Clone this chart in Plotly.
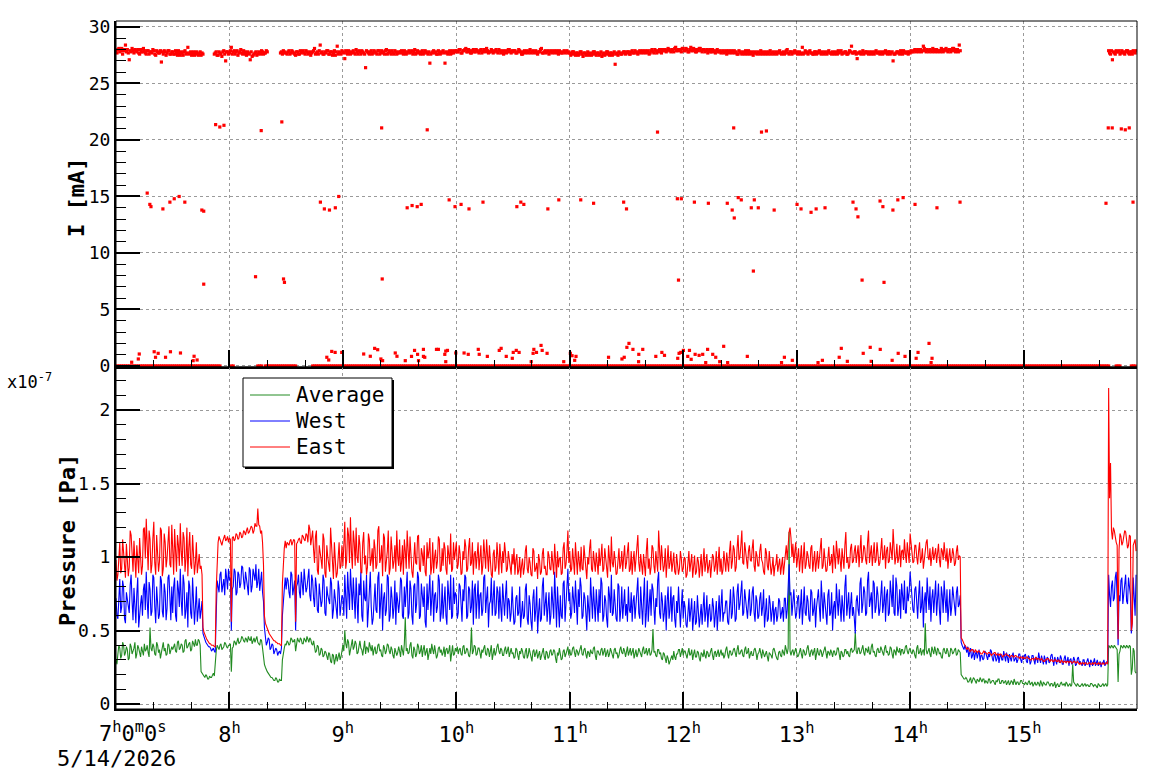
import plotly.graph_objects as go

N = None
START_HOUR = 7.0
END_HOUR = 16.0
FONT = "DejaVu Sans Mono"

# ---------------- pressure gauges, units of 1e-9 Pa
# readings on the full minute (from 7:00) ...
avg_p = [
    30,34,38,33,40,35,37,31,39,36,42,34,38,32,36,41,37,35,52,36,39,33,40,37,35,42,38,34,40,36,
    37,41,35,43,38,40,36,44,39,42,37,41,44,40,43,22,20,18,19,17,18,20,19,36,38,40,37,39,41,38,
    40,22,39,42,44,41,43,45,42,44,46,43,41,45,44,42,40,43,30,25,22,20,18,17,16,17,15,16,30,38,
    40,42,41,44,43,36,45,42,44,41,43,46,42,44,40,38,36,39,34,37,33,35,30,34,28,33,31,29,35,32,
    40,50,38,42,36,44,39,41,35,43,37,40,34,38,42,36,33,39,35,41,37,32,38,36,40,34,37,31,36,35,
    36,40,33,59,38,35,42,31,37,34,39,36,32,40,35,30,38,41,34,36,33,39,37,35,32,38,36,29,40,34,
    36,34,38,33,40,35,37,32,52,36,39,34,38,31,35,40,33,37,36,30,38,35,41,34,37,33,39,36,32,38,
    35,32,37,30,34,36,31,38,33,35,29,37,34,31,36,33,38,30,35,32,37,34,36,28,33,35,31,37,34,39,
    37,34,39,32,36,35,40,33,38,31,35,37,34,39,30,36,33,38,35,32,37,34,36,31,38,35,33,39,34,36,
    36,33,38,35,31,37,34,36,32,39,35,33,38,34,51,36,32,37,35,30,34,28,31,29,33,36,30,34,37,35,
    33,36,31,38,34,30,37,32,35,29,34,37,31,35,33,38,30,36,34,32,37,35,33,39,31,36,34,38,32,40,
    34,37,32,39,35,31,36,33,38,30,35,34,37,32,36,29,34,31,38,33,30,36,32,35,40,34,117,33,37,35,
    35,33,38,31,36,34,40,32,37,35,30,38,33,36,34,39,31,35,37,32,36,34,38,30,35,33,37,36,32,38,
    36,49,34,38,35,40,33,37,39,34,41,36,32,38,35,37,33,40,36,34,38,31,36,39,35,33,37,35,40,34,
    38,34,36,31,40,35,33,37,55,34,38,32,36,39,33,37,35,31,38,34,36,33,37,35,38,34,36,20,18,17,
    17,15,18,16,17,14,16,18,15,17,16,14,17,15,16,13,15,17,14,16,15,13,16,14,15,17,13,15,14,16,
    14,15,13,16,14,12,15,13,14,16,12,14,13,15,12,14,13,11,14,12,15,13,12,14,13,12,27,14,12,13,
    12,14,13,12,13,12,14,12,13,11,13,12,14,13,12,40,38,39,40,38,15,36,39,40,38,39,40,20,38,22,
]
west_p = [
    72,58,85,66,80,55,70,62,88,57,64,75,52,68,60,82,90,58,78,63,86,55,72,61,84,59,76,65,88,57,
    62,86,56,78,92,60,82,64,52,80,58,70,66,56,72,64,48,44,41,39,38,37,36,60,80,88,76,85,92,78,
    84,50,80,90,76,88,82,93,78,86,74,91,80,88,95,83,77,90,70,46,42,44,38,40,36,37,35,34,60,78,
    78,84,72,88,80,50,82,76,90,74,86,79,92,70,84,66,80,62,76,70,84,60,74,68,82,64,72,58,78,66,
    72,88,58,80,92,64,76,86,55,74,60,84,70,52,78,66,58,82,62,90,68,50,76,64,86,60,72,66,54,70,
    70,84,58,66,90,62,78,54,82,68,86,60,74,80,52,64,88,70,56,76,66,84,62,58,80,54,72,88,60,68,
    74,62,80,56,70,86,60,78,66,54,82,68,58,76,64,88,72,52,70,60,84,62,76,80,56,66,74,58,70,62,
    66,56,74,62,52,70,60,82,54,68,50,78,64,48,72,58,86,66,56,76,60,70,90,52,64,74,58,84,68,92,
    76,62,70,84,54,66,80,60,72,50,64,86,58,68,78,56,62,82,60,70,52,74,88,62,68,56,80,64,58,78,
    68,80,62,56,74,66,86,58,64,72,52,84,68,60,78,54,66,90,58,70,62,50,80,64,56,74,52,62,58,66,
    58,66,52,72,62,50,70,56,64,60,54,76,62,52,68,58,66,60,50,74,64,56,62,70,54,78,62,72,58,82,
    68,84,62,72,58,78,64,80,56,70,60,76,66,52,72,58,68,62,54,66,60,70,62,56,72,64,95,76,70,66,
    62,74,66,54,80,60,70,56,76,64,52,72,66,84,58,68,54,78,62,50,70,82,60,66,74,56,88,68,58,76,
    66,48,74,60,86,68,76,62,90,70,58,82,66,74,64,84,68,56,78,62,72,88,60,80,66,58,74,84,62,70,
    90,74,62,80,58,84,66,52,76,86,64,56,78,70,60,82,54,74,84,62,56,78,66,72,60,80,68,42,38,40,
    35,32,38,33,30,36,34,29,33,31,35,30,32,36,29,33,31,28,34,30,32,35,28,31,33,29,32,30,34,28,
    30,34,28,32,29,33,27,31,35,28,30,33,27,31,29,34,26,30,32,28,31,27,33,29,26,31,28,30,27,32,
    29,26,30,27,31,25,29,28,26,30,27,25,28,26,29,88,66,84,72,90,40,70,86,74,88,68,80,48,86,60,
]
east_p = [
    98,88,110,92,104,86,100,93,115,90,97,108,89,103,94,120,126,91,112,95,124,88,106,97,118,92,110,99,121,93,
    96,119,90,108,123,94,113,99,87,117,92,105,96,89,102,94,52,47,44,42,41,40,39,78,110,112,108,113,111,114,
    113,56,114,112,115,113,116,114,117,118,116,119,120,118,121,133,121,118,95,55,51,48,46,44,43,42,41,40,82,106,
    106,109,111,108,112,56,110,113,109,114,111,115,122,108,118,96,118,88,104,92,112,86,100,90,107,85,98,89,110,94,
    94,124,98,115,127,92,110,120,96,108,89,117,101,93,112,98,90,106,95,121,99,87,113,96,118,92,104,97,90,100,
    112,96,88,104,118,92,100,86,110,95,115,90,102,108,87,99,113,93,89,105,97,112,91,94,106,88,101,116,92,98,
    110,95,102,89,98,107,92,113,96,88,104,99,91,108,94,101,112,90,97,86,105,93,100,109,89,96,103,92,99,88,
    95,88,102,91,86,99,93,108,89,96,87,104,92,85,98,90,106,94,88,101,91,97,109,86,93,100,89,110,95,118,
    104,92,98,110,88,96,107,91,100,85,95,112,90,97,103,88,94,109,92,99,86,101,114,93,98,89,106,95,90,108,
    96,110,92,88,104,98,115,90,95,102,87,113,99,93,106,89,97,118,91,100,94,86,108,96,90,103,88,95,92,99,
    92,99,88,104,95,86,101,90,97,93,87,106,96,89,98,92,100,94,88,107,99,91,96,103,90,111,97,105,93,115,
    100,118,95,104,92,108,97,112,90,101,94,109,96,88,103,91,98,93,87,95,90,99,93,88,104,98,117,113,109,102,
    93,106,98,89,110,95,101,92,108,97,90,104,99,113,94,100,91,107,96,89,102,111,95,98,106,92,117,100,94,109,
    97,108,102,93,115,99,106,95,118,101,94,110,98,104,96,113,100,92,107,97,103,119,95,109,99,93,105,112,96,101,
    116,103,97,108,95,110,99,92,105,112,98,94,107,101,96,109,93,104,110,97,92,106,99,102,96,108,101,45,42,40,
    37,38,36,37,35,36,36,35,34,36,35,34,35,33,34,35,34,33,34,32,33,34,33,32,33,32,33,32,31,32,
    32,31,32,31,30,31,31,30,31,30,30,29,30,31,29,30,29,30,29,29,30,28,29,29,28,29,28,29,28,28,
    28,28,27,28,27,28,27,27,28,27,27,27,28,27,28,215,164,112,118,110,44,116,108,113,117,106,115,50,108,112,
]
# ... and readings on the half minute (7:00:30 onwards)
avg_half = [
    27,40,31,42,33,39,30,41,34,38,31,40,35,39,33,36,40,32,38,41,34,42,35,31,39,36,33,41,34,39,
    40,36,42,37,41,35,43,38,41,36,43,39,40,44,40,21,19,20,17,19,18,21,30,40,37,41,38,42,39,40,
    41,38,43,40,45,42,46,43,45,42,44,46,43,42,46,41,44,38,27,23,21,19,18,16,18,15,17,16,36,41,
    43,40,45,42,44,42,43,45,41,45,42,44,45,41,43,35,40,33,38,32,36,31,35,29,34,27,34,33,30,36,
    36,41,44,33,40,37,43,34,39,38,33,43,39,35,38,40,37,34,40,36,33,40,34,41,36,39,33,38,33,39,
    32,37,41,36,34,40,33,39,32,41,34,40,37,33,38,36,34,37,40,31,38,35,33,39,37,34,40,35,33,38,
    39,37,34,39,34,38,33,37,34,40,33,38,35,37,38,34,38,32,40,35,33,39,36,38,33,37,34,39,37,34,
    31,38,33,36,38,32,36,31,38,32,36,32,37,35,30,37,32,36,31,36,33,37,31,35,38,30,36,32,38,33,
    33,38,35,37,33,38,34,37,34,36,32,35,38,33,36,34,37,33,38,36,32,38,33,37,34,31,37,35,38,32,
    39,35,33,38,35,32,38,33,37,34,38,36,33,37,35,33,37,34,31,35,31,33,27,32,30,32,34,37,32,38,
    36,32,35,33,37,34,32,36,31,35,32,33,36,32,36,33,35,32,37,35,33,31,37,34,36,33,37,35,37,34,
    36,33,37,34,38,34,33,37,35,34,38,31,35,34,32,35,33,37,34,31,35,33,37,33,36,38,36,36,33,38,
    32,37,34,37,33,38,35,36,33,38,35,34,37,32,37,35,36,33,35,36,33,38,34,36,32,37,34,33,37,35,
    37,36,38,34,39,35,38,35,34,39,35,33,37,35,39,34,38,35,33,39,34,37,33,36,38,37,34,39,36,37,
    35,37,33,38,34,38,36,33,37,36,34,39,34,36,38,34,32,37,35,38,32,38,34,37,33,37,35,19,17,18,
    15,17,14,18,15,17,15,16,17,14,15,17,14,16,14,16,17,14,16,14,16,15,13,16,13,15,15,13,16,14,
    13,14,15,13,15,14,13,15,12,14,15,13,15,13,14,12,15,13,12,14,13,14,15,12,14,13,15,13,14,12,
    13,12,14,13,12,14,13,13,12,14,12,13,12,14,13,39,40,38,39,37,34,40,38,39,40,38,39,24,36,21,
]
west_half = [
    60,80,62,84,58,76,64,81,70,79,55,86,62,74,78,64,70,83,60,88,66,80,58,87,63,82,57,86,66,80,
    80,60,84,66,70,88,58,76,84,62,86,54,80,62,58,70,45,42,40,39,36,38,35,84,76,90,82,74,86,92,
    86,78,92,74,90,79,94,84,90,80,93,76,92,84,79,92,86,76,52,40,45,37,41,34,38,33,36,38,72,86,
    86,76,90,74,84,80,88,72,82,92,76,88,74,88,72,86,64,82,66,88,62,80,70,86,58,78,64,84,60,74,
    60,76,90,64,74,86,58,68,82,90,56,72,88,64,90,54,76,64,86,58,82,72,60,88,56,80,58,84,76,62,
    86,60,80,84,58,84,60,80,62,90,58,82,66,56,82,78,60,84,74,62,88,56,82,74,60,84,64,58,86,76,
    58,82,64,78,88,58,80,62,84,78,58,84,74,60,86,62,80,68,86,72,60,80,58,66,82,60,84,72,56,80,
    54,72,60,80,66,58,78,58,74,56,72,56,80,62,56,80,60,76,72,54,80,58,62,80,52,60,82,56,86,70,
    58,80,62,60,78,86,58,76,62,74,56,64,80,56,62,78,86,56,74,58,80,62,60,78,58,82,56,80,72,60,
    56,64,76,70,58,78,62,80,54,86,62,56,78,82,60,72,84,62,76,56,74,70,58,80,72,58,70,80,52,78,
    70,54,68,56,72,62,54,74,52,68,64,56,74,64,56,72,52,70,62,56,78,62,70,56,68,58,80,56,76,64,
    76,60,78,64,70,60,76,62,74,58,72,60,78,62,56,74,56,70,64,56,72,58,66,72,58,80,74,60,78,58,
    72,58,78,70,62,74,58,78,60,72,66,78,56,70,76,58,74,60,76,66,58,70,78,56,62,80,60,76,70,60,
    58,70,64,82,62,80,60,84,66,76,84,62,80,60,78,62,80,74,60,84,66,62,86,60,78,82,64,62,80,76,
    80,64,78,66,74,62,80,70,62,74,80,72,62,84,72,64,80,62,72,78,66,60,80,62,76,66,74,40,37,38,
    39,35,31,37,34,31,37,33,30,36,32,34,37,31,34,29,35,32,30,36,29,31,34,29,35,31,28,34,30,33,
    33,29,33,27,33,30,32,28,31,33,27,29,32,28,33,30,32,27,29,33,27,31,28,32,30,27,32,26,31,28,
    27,30,26,29,28,30,26,31,28,26,29,28,30,27,28,74,80,70,86,72,74,84,68,80,70,86,74,56,72,88,
]
east_half = [
    84,106,89,112,90,109,87,118,95,111,86,94,113,88,119,99,104,118,89,113,96,115,90,120,87,116,93,117,95,122,
    88,100,115,94,104,117,90,120,106,95,115,88,110,99,92,88,49,45,43,41,40,40,39,104,114,109,111,115,112,110,
    112,113,111,116,112,117,113,118,115,120,117,121,116,123,121,122,116,110,60,53,49,47,45,43,42,41,41,40,100,111,
    110,108,112,110,111,109,112,110,115,112,116,110,119,113,105,114,91,108,98,116,89,108,94,120,92,110,86,104,92,108,
    108,92,120,96,104,118,94,100,115,90,110,95,88,116,94,106,112,92,118,96,108,116,90,104,88,114,92,108,118,94,
    90,108,112,92,98,114,90,104,96,114,92,106,94,90,110,104,88,110,100,92,114,90,106,110,92,108,95,90,110,104,
    92,108,88,104,112,90,106,94,110,102,92,110,104,88,112,92,96,108,88,102,90,110,88,96,104,110,90,104,90,102,
    106,98,88,100,94,88,104,92,100,88,106,90,96,102,88,102,92,88,104,92,104,88,95,104,99,88,106,92,104,96,
    90,106,88,94,104,90,92,108,88,100,106,92,104,90,94,106,100,90,106,92,108,90,96,104,88,102,92,104,100,92,
    104,90,104,98,90,108,96,102,88,94,104,92,88,108,94,104,90,100,108,90,106,98,92,104,96,90,102,88,104,90,
    100,86,98,90,102,96,88,100,86,102,96,90,102,94,86,102,90,104,96,90,88,104,90,94,104,92,108,90,106,98,
    108,96,110,94,104,98,106,94,104,94,104,98,90,106,94,104,88,100,94,102,96,88,100,96,108,110,120,100,96,110,
    100,90,108,100,92,104,94,106,90,104,100,92,108,92,106,90,104,94,102,108,92,98,106,90,96,108,96,92,106,96,
    104,96,108,106,96,108,98,110,96,108,104,96,110,94,106,98,108,104,96,110,98,106,100,96,108,104,98,102,110,96,
    106,96,108,100,104,96,106,98,110,100,106,100,98,106,104,98,106,98,102,106,100,96,106,94,104,98,100,44,41,39,
    38,36,37,36,37,35,36,34,35,35,34,35,34,34,35,33,34,34,33,33,34,33,32,33,32,33,32,32,32,31,
    31,32,31,30,31,30,32,31,30,31,29,30,31,30,30,29,30,29,30,28,29,29,28,29,29,28,29,28,29,27,
    27,28,28,27,28,27,28,28,27,28,28,27,27,28,27,140,118,120,112,108,105,114,110,118,112,108,114,55,110,104,
]

# ---------------- beam current (mA); None = no reading
# readings on the full minute ...
i_beam = [
    27.9,28.0,27.8,28.1,27.9,28.4,28.0,27.1,27.8,27.9,28.0,27.8,27.7,28.0,27.8,27.9,27.6,27.9,27.8,27.7,27.9,27.5,27.8,27.7,26.9,27.6,27.8,27.7,27.9,27.6,
    27.8,27.6,27.7,27.9,27.5,27.7,27.8,27.6,28.2,27.7,27.5,27.8,27.6,27.7,27.6,27.5,27.6,N,N,N,N,N,27.6,27.8,27.5,27.7,27.4,27.9,27.0,27.8,
    27.7,28.2,27.8,27.6,27.9,27.7,28.0,27.6,27.8,27.5,27.7,27.1,27.4,27.6,27.8,27.6,27.7,27.9,27.6,27.7,27.8,N,N,N,N,N,N,27.7,27.6,27.8,
    27.7,27.8,27.6,27.9,27.7,27.5,27.8,27.6,27.7,27.9,27.6,27.8,27.7,27.5,27.8,28.1,27.7,27.6,28.4,27.8,27.6,27.7,27.9,27.6,27.8,27.7,27.5,28.3,27.8,27.6,
    27.8,27.2,27.7,27.9,27.6,27.8,27.7,28.0,27.6,27.8,27.9,27.7,26.4,27.8,27.6,27.9,27.7,27.8,27.6,27.9,27.7,27.8,27.6,28.0,27.7,27.8,27.9,27.6,27.8,27.7,
    27.7,27.9,27.6,27.8,27.7,27.9,27.8,27.6,28.0,27.7,27.8,27.6,27.9,27.7,27.8,27.6,26.8,27.7,27.9,27.8,27.6,27.8,27.7,27.9,26.8,27.7,27.8,27.6,27.9,27.8,
    27.9,27.8,28.0,27.7,27.9,28.1,27.8,27.9,27.7,28.0,27.8,27.9,27.7,28.0,27.8,27.9,28.1,27.7,27.8,27.9,27.8,28.0,27.7,27.9,27.8,27.6,27.9,27.8,28.0,27.7,
    27.8,27.9,27.7,28.0,27.8,27.6,27.9,27.8,27.7,28.0,27.8,27.7,27.9,27.6,27.8,28.1,27.7,27.9,27.8,27.6,27.9,27.8,27.7,27.9,27.6,27.8,27.7,27.9,27.8,27.7,
    27.7,27.6,27.8,27.5,27.7,27.6,27.8,27.4,27.7,27.6,27.5,27.7,27.6,27.8,27.5,27.7,27.6,27.4,27.7,27.6,27.8,27.5,27.7,27.6,26.7,27.7,27.8,27.6,27.7,27.8,
    27.7,27.8,27.6,27.9,27.7,27.8,27.6,27.9,27.8,27.7,27.9,27.8,27.6,27.9,27.8,28.0,27.7,27.9,27.8,28.0,27.9,27.8,28.1,27.9,28.0,27.8,28.2,27.9,28.0,27.8,
    28.1,27.9,28.0,27.8,28.2,27.9,28.0,27.8,27.9,28.1,27.8,28.0,27.9,27.7,28.0,27.8,27.9,27.7,28.0,27.8,27.7,27.9,27.8,27.6,27.9,27.8,27.7,27.9,27.8,27.6,
    27.8,27.6,27.7,27.9,27.6,27.8,27.7,27.5,27.8,27.6,27.7,27.9,27.6,27.7,27.8,27.6,27.9,27.7,27.6,27.8,27.7,27.9,27.6,27.8,27.7,28.0,27.6,27.8,27.7,27.9,
    27.8,27.7,27.6,28.2,27.7,27.8,27.6,27.9,27.7,27.6,27.8,27.7,27.9,27.6,27.7,27.8,27.6,27.9,27.7,27.8,27.6,27.7,27.9,27.8,27.6,27.7,27.8,27.6,27.9,28.3,
    27.7,27.8,27.2,27.7,27.6,27.9,27.7,27.8,27.6,27.7,27.8,27.6,27.9,27.7,27.6,27.8,27.7,27.9,27.6,27.8,27.7,27.0,27.6,27.8,27.7,27.9,27.6,27.8,27.7,27.6,
    27.7,27.8,27.9,27.8,28.0,27.9,27.8,28.3,27.9,28.0,27.8,27.9,28.1,27.8,28.0,27.9,27.8,28.0,27.9,28.1,27.8,28.0,27.9,28.1,27.8,28.0,28.4,N,N,N,
    N,N,N,N,N,N,N,N,N,N,N,N,N,N,N,N,N,N,N,N,N,N,N,N,N,N,N,N,N,N,
    N,N,N,N,N,N,N,N,N,N,N,N,N,N,N,N,N,N,N,N,N,N,N,N,N,N,N,N,N,N,
    N,N,N,N,N,N,N,N,N,N,N,N,N,N,N,27.9,27.6,27.1,27.7,27.9,27.8,27.6,27.9,27.7,27.8,27.9,27.6,27.8,27.9,27.7,
]
# ... and on the half minute
i_beam_half = [
    27.7,28.1,27.9,27.6,28.0,27.8,27.7,27.9,28.1,27.7,27.9,28.0,27.6,27.8,28.1,27.7,27.9,27.6,27.8,28.0,27.6,27.9,27.7,27.9,27.8,27.9,27.5,27.9,27.6,27.8,
    27.6,27.9,27.5,27.7,27.8,27.5,27.9,27.7,27.6,27.8,27.7,27.5,27.8,27.5,27.8,27.7,N,N,N,N,N,N,27.7,27.5,27.8,27.6,27.8,27.6,27.8,27.6,
    27.9,27.6,27.9,27.8,27.5,27.8,27.7,27.9,27.6,27.8,27.6,27.8,27.5,27.7,27.5,27.8,27.6,27.8,27.7,27.9,N,N,N,N,N,N,N,27.8,27.9,27.7,
    27.6,27.9,27.7,27.8,27.6,27.8,27.6,27.9,27.8,27.7,27.9,27.6,27.8,27.7,27.9,27.6,27.8,27.9,27.7,27.6,27.8,27.9,27.6,27.8,27.5,27.9,27.8,27.6,27.7,27.9,
    27.7,27.9,27.6,27.8,27.7,27.9,27.6,27.8,27.9,27.6,27.8,27.6,27.9,27.7,27.8,27.6,27.9,27.7,27.9,27.6,27.9,27.7,27.9,27.6,27.9,27.6,27.7,27.9,27.6,27.8,
    27.8,27.7,27.9,27.6,27.8,27.7,27.9,27.8,27.6,27.9,27.7,27.8,27.6,27.9,27.7,27.8,27.6,27.8,27.7,27.6,27.9,27.6,27.8,27.7,27.8,27.6,27.9,27.7,27.7,27.9,
    27.8,28.0,27.7,27.9,28.0,27.8,28.0,27.7,27.9,27.8,28.0,27.8,27.9,27.7,28.0,27.8,27.9,27.8,28.0,27.7,27.9,27.8,28.0,27.7,27.9,27.8,27.7,28.0,27.8,27.9,
    27.9,27.7,27.8,27.9,27.6,27.8,27.7,27.9,27.8,27.7,27.9,27.8,27.7,27.8,28.0,27.7,27.8,27.7,27.9,27.8,27.7,27.9,27.8,27.7,27.9,27.7,27.8,27.7,27.9,27.8,
    27.5,27.8,27.6,27.7,27.5,27.8,27.6,27.7,27.5,27.8,27.6,27.5,27.8,27.6,27.7,27.5,27.8,27.6,27.5,27.8,27.6,27.7,27.5,27.8,27.6,27.5,27.7,27.6,27.8,27.6,
    27.8,27.6,27.8,27.7,27.9,27.7,27.8,27.7,27.9,27.8,27.7,27.9,27.7,28.0,27.7,27.9,27.8,28.0,27.7,27.9,28.0,27.9,28.0,27.8,27.9,28.1,27.9,28.0,27.9,28.1,
    27.9,28.1,27.8,28.0,27.9,28.1,27.8,28.0,28.1,27.9,28.0,27.8,28.0,27.9,27.8,28.0,27.8,27.9,27.8,27.9,27.8,27.7,27.9,27.8,27.7,27.9,27.8,27.7,27.6,27.9,
    27.7,27.8,27.6,27.7,27.9,27.6,27.8,27.7,27.7,27.8,27.6,27.7,27.8,27.6,27.7,27.8,27.6,27.8,27.7,27.6,27.8,27.7,27.7,27.6,27.9,27.7,27.8,27.6,27.8,27.7,
    27.6,27.8,27.7,27.6,27.9,27.7,27.8,27.7,27.6,27.8,27.6,27.8,27.7,27.8,27.6,27.7,27.8,27.7,27.6,27.7,27.8,27.6,27.7,27.9,27.7,27.8,27.6,27.7,27.8,27.7,
    27.8,27.6,27.7,27.8,27.7,27.6,27.8,27.7,27.8,27.6,27.7,27.8,27.7,27.8,27.7,27.6,27.8,27.7,27.8,27.6,27.8,27.6,27.7,27.8,27.6,27.7,27.9,27.7,27.8,27.8,
    27.9,27.8,28.0,27.9,27.8,28.0,27.9,28.1,27.8,27.9,28.0,27.8,27.9,28.0,27.8,27.9,28.1,27.8,28.0,27.9,28.0,27.8,28.1,27.9,28.0,27.8,27.9,N,N,N,
    N,N,N,N,N,N,N,N,N,N,N,N,N,N,N,N,N,N,N,N,N,N,N,N,N,N,N,N,N,N,
    N,N,N,N,N,N,N,N,N,N,N,N,N,N,N,N,N,N,N,N,N,N,N,N,N,N,N,N,N,N,
    N,N,N,N,N,N,N,N,N,N,N,N,N,N,N,27.7,27.9,27.8,27.6,27.8,27.9,27.7,27.8,27.6,27.9,27.7,27.8,27.6,27.8,27.9,
]

# zero-reading channel, one reading per minute (mA); None = no reading
i_zero = (
    [0] * 56 + [N] * 5 + [0, 0] + [N] * 12 + [0, 0, 0] + [N] + [0] * 17 + [N] * 8
    + [0] * 422 + [N] * 3 + [0, 0, 0] + [N] * 5 + [0, 0, 0]
)

# sporadic intermediate current readings: minutes after 7:00, value (mA)
mid_t = [16.5,17.9,18.5,24.8,28.5,30.8,33.4,36.4,45.4,46.4,108.1,110.2,112.9,116,117.8,154,156.6,159.3,161.4,
         176.2,179.3,182.5,186.7,194.1,212,214.1,215.7,228.4,234.2,245.8,252.6,268.5,270,296.9,299,305.9,313.3,
         323.3,325.9,327,329.1,330.7,336,337.6,339.7,348.1,360.2,362.3,367.6,370.3,375,389.8,391.4,392.4,404.1,
         405.6,410.9,413.5,416.3,422.6,434.2,446.4,523.6,537.9,
         52.7,54.9,57.1,76.8,87.7,140.5,164.6,286.4,326.7,341.4,344,524.8,526.9,531.7,533.8,535.9,
         46.4,73.8,88.6,89.1,140.8,297.5,337.1,394.6,406.2]
mid_v = [15.3,14.3,14.1,13.9,14.5,14.8,15.0,14.5,13.8,13.7,14.5,13.9,13.8,14.0,15.0,14.0,14.2,14.1,14.3,
         14.7,14.1,14.3,13.9,14.5,14.1,14.5,14.3,13.9,14.7,14.7,14.4,14.5,13.9,14.8,14.8,14.5,14.4,
         14.4,13.8,13.1,14.9,14.7,14.0,14.7,14.0,13.8,14.3,13.9,13.6,13.9,14.0,14.5,13.9,13.2,14.6,
         14.1,13.8,14.7,14.9,14.3,14.0,14.5,14.4,14.5,
         21.36,21.15,21.3,20.83,21.6,21.07,20.9,20.7,21.07,20.7,20.8,21.07,21.07,20.98,20.9,21.07,
         7.24,7.9,7.7,7.4,7.7,7.6,8.4,7.6,7.4]

# sporadic low current readings: minutes after 7:00, value (mA)
lo_t = [8.3,11.8,12.3,20.2,20.9,22.3,26.2,28.8,34.1,40.8,41.3,42.9,111.5,112.5,114.1,115.9,119.4,131,134.5,
        136.8,138.4,140.1,141,147.7,148.6,153,156.3,157.9,159.5,160,162.6,162.6,163.3,169.5,170.5,173.9,174.4,
        175.3,174.4,179.7,184.1,186.3,191.6,192.1,196.4,202.7,203.7,206.4,209.6,210.1,211.7,213.2,219.6,220.6,
        221,222.4,224.8,225.4,228,236.8,240.3,241.2,242.6,243.3,260.5,267.6,268.8,270.2,271.3,273.4,276.4,
        276.5,278.6,285.5,288.7,290.1,297.1,297.8,298.7,300.1,302.4,303.3,304.2,306.3,308.4,310.3,311.9,312.9,
        315.6,317.2,319.3,321.4,323.5,333.9,352,353.5,357.7,371.3,373.6,382.5,383.6,386.8,395.2,398.9,399.4,
        404.2,410.5,413.7,417.3,423.2,424.2,430,431.1,431.6]
lo_v = [0.33,0.62,1.06,1.26,0.77,1.12,0.77,1.26,1.15,0.47,0.86,0.53,0.77,0.53,1.29,1.2,1.2,1.06,0.86,
        1.56,1.44,0.62,0.47,1.15,0.86,0.47,0.85,1.38,1.03,0.47,1.47,0.85,0.77,1.47,1.47,1.03,1.32,
        1.38,0.38,1.15,1.15,1.03,1.47,1.03,0.85,1.38,1.56,0.85,0.68,1.2,1.38,1.2,0.38,1.12,
        1.47,1.2,1.82,1.38,1.12,0.38,1.12,0.91,0.5,0.85,0.77,0.62,0.77,1.65,2.0,1.47,0.38,
        1.03,1.47,0.85,1.2,0.94,0.68,1.12,1.2,1.38,0.85,1.38,0.59,1.03,0.94,1.03,0.3,1.47,
        1.03,0.77,0.38,1.74,0.3,0.85,0.3,0.77,0.5,0.3,0.5,0.77,1.56,0.41,1.12,1.65,0.41,
        1.47,0.5,1.12,0.85,0.68,1.2,2.0,0.3,0.68]

series_names = ["Average", "West", "East"]
hour_ticks = [8, 9, 10, 11, 12, 13, 14, 15]
hour_labels = [f"{h}<sup>h</sup>" for h in hour_ticks]
i_ticks = [0, 5, 10, 15, 20, 25, 30]
p_ticks = [0, 0.5, 1, 1.5, 2]
p_labels = ["0", "0.5", "1", "1.5", "2"]

for a, b in ((avg_p, avg_half), (west_p, west_half), (east_p, east_half), (i_beam, i_beam_half)):
    assert len(a) == len(b) == 540, (len(a), len(b))
assert len(i_zero) == 540, len(i_zero)
assert len(mid_t) == len(mid_v) and len(lo_t) == len(lo_v), (len(mid_t), len(mid_v), len(lo_t), len(lo_v))


def to_hours(minutes):
    return [START_HOUR + m / 60.0 for m in minutes]


def merge(full, half):
    """Put the on-the-minute and half-minute readings into time order."""
    t, v = [], []
    for m, (a, b) in enumerate(zip(full, half)):
        t += [m, m + 0.5]
        v += [a, b]
    return to_hours(t), v


RED = "#ff0000"
BLUE = "#0000ff"
GREEN = "#228b22"
colors = [GREEN, BLUE, RED]

fig = go.Figure()

# ---- current panel
mk = dict(symbol="square", size=3.2, color=RED, line=dict(width=0))
tb, vb = merge(i_beam, i_beam_half)
for xs, ys in ((to_hours(range(len(i_zero))), i_zero), (to_hours(lo_t), lo_v),
               (to_hours(mid_t), mid_v), (tb, vb)):
    fig.add_trace(go.Scatter(x=xs, y=ys, mode="markers", marker=mk, showlegend=False,
                             xaxis="x", yaxis="y", hoverinfo="skip"))

# ---- pressure panel
for name, col, full, half in zip(series_names, colors, (avg_p, west_p, east_p),
                                 (avg_half, west_half, east_half)):
    tp, vp = merge(full, half)
    fig.add_trace(go.Scatter(x=tp, y=[v / 100 for v in vp], mode="lines", name=name,
                             line=dict(color=col, width=1.1), xaxis="x2", yaxis="y2",
                             showlegend=False))

SPLIT = 342 / 688
minor_x = [START_HOUR + k / 3 for k in range(1, 27) if k % 3]
grid = dict(showgrid=True, gridcolor="#9a9a9a", griddash="dot", gridwidth=1, zeroline=False,
            showline=True, linecolor="black", linewidth=2, ticks="inside", tickcolor="black",
            tickwidth=2)

fig.update_layout(
    width=1158, height=782,
    margin=dict(l=116, r=21, t=21, b=73),
    paper_bgcolor="white", plot_bgcolor="white",
    font=dict(family=FONT, color="black"),
    xaxis=dict(domain=[0, 1], anchor="y", range=[START_HOUR, END_HOUR], tickmode="array",
               tickvals=hour_ticks, showticklabels=False, ticklen=17,
               minor=dict(tickvals=minor_x, ticks="inside", ticklen=7, tickwidth=1,
                          tickcolor="black", showgrid=False), **grid),
    yaxis=dict(domain=[SPLIT, 1], anchor="x", range=[-0.09, 30.53], tickmode="array",
               tickvals=i_ticks, ticklen=24, tickfont=dict(size=18, family=FONT),
               minor=dict(dtick=1, tick0=0, ticks="inside", ticklen=10, tickwidth=1,
                          tickcolor="black", showgrid=False), **grid),
    xaxis2=dict(domain=[0, 1], anchor="y2", range=[START_HOUR, END_HOUR], tickmode="array",
                tickvals=hour_ticks, ticktext=hour_labels, ticklen=17, ticklabelstandoff=5,
                tickfont=dict(size=22, family=FONT),
                minor=dict(tickvals=minor_x, ticks="inside", ticklen=7, tickwidth=1,
                           tickcolor="black", showgrid=False), **grid),
    yaxis2=dict(domain=[0, SPLIT], anchor="x2", range=[-0.034, 2.293], tickmode="array",
                tickvals=p_ticks, ticktext=p_labels, ticklen=24,
                tickfont=dict(size=18, family=FONT),
                minor=dict(dtick=0.1, tick0=0, ticks="inside", ticklen=10, tickwidth=1,
                           tickcolor="black", showgrid=False), **grid),
    showlegend=False,
)

# frames around both panels
for xr, yr in (("x", "y"), ("x2", "y2")):
    fig.add_shape(type="rect", xref=f"{xr} domain", yref=f"{yr} domain", x0=0, x1=1, y0=0, y1=1,
                  line=dict(color="black", width=1), layer="above")


def px_x(px):
    return (px - 116) / 1021


def px_y(py):
    return (709 - py) / 688


# legend box (ROOT style, with drop shadow)
fig.add_shape(type="rect", xref="paper", yref="paper", x0=px_x(245), x1=px_x(394),
              y0=px_y(469), y1=px_y(380), fillcolor="black", line=dict(width=0), layer="above")
fig.add_shape(type="rect", xref="paper", yref="paper", x0=px_x(243), x1=px_x(392),
              y0=px_y(467), y1=px_y(378), fillcolor="white", line=dict(color="black", width=1),
              layer="above")
for k, (name, col) in enumerate(zip(series_names, colors)):
    yy = 395 + 26 * k
    fig.add_shape(type="line", xref="paper", yref="paper", x0=px_x(250), x1=px_x(290),
                  y0=px_y(yy), y1=px_y(yy), line=dict(color=col, width=1), layer="above")
    fig.add_annotation(xref="paper", yref="paper", x=px_x(294), y=px_y(yy), text=name,
                       showarrow=False, xanchor="left", yanchor="middle",
                       font=dict(size=21, family=FONT))

ann = [
    dict(text="<b>I [mA]</b>", x=px_x(76), y=px_y(198), textangle=-90,
         font=dict(size=22, family=FONT)),
    dict(text="<b>Pressure [Pa]</b>", x=px_x(67), y=px_y(540), textangle=-90,
         font=dict(size=22, family=FONT)),
    dict(text="x10<sup>-7</sup>", x=px_x(5), y=px_y(381), xanchor="left",
         font=dict(size=17, family=FONT)),
    dict(text="7<sup>h</sup>0<sup>m</sup>0<sup>s</sup>", x=px_x(133), y=px_y(732),
         font=dict(size=22, family=FONT)),
    dict(text="5/14/2026", x=0, y=px_y(759), font=dict(size=22, family=FONT)),
]
for a in ann:
    a.setdefault("xanchor", "center")
    fig.add_annotation(xref="paper", yref="paper", showarrow=False, yanchor="middle", **a)

fig.write_html("out.html")
